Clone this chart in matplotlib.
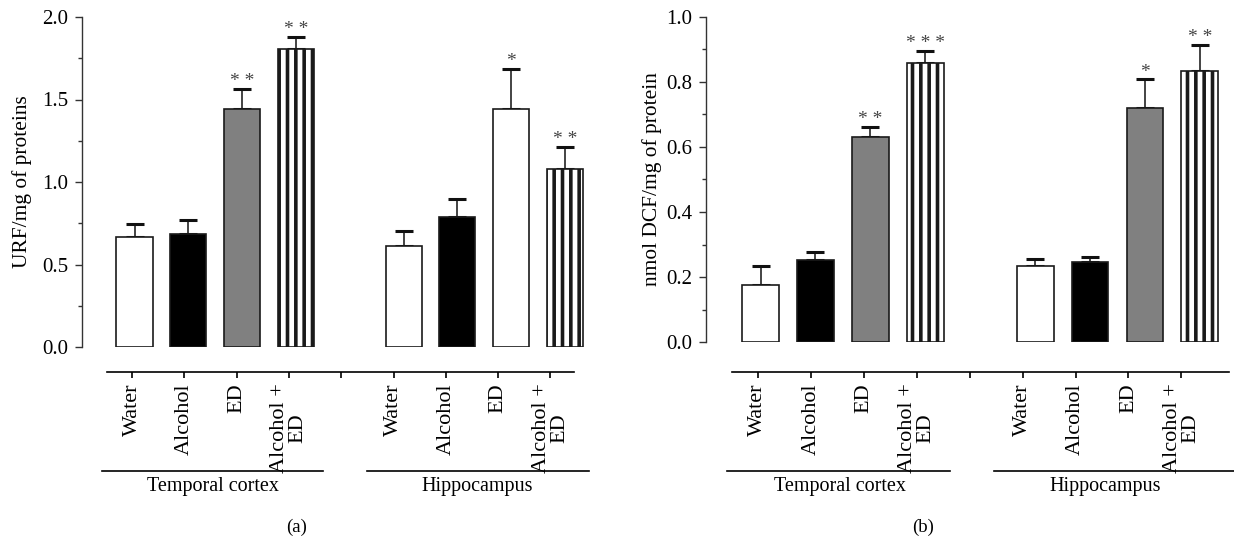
import matplotlib
matplotlib.use('Agg')
import matplotlib.pyplot as plt
from matplotlib.ticker import MultipleLocator, FormatStrFormatter
from matplotlib.transforms import blended_transform_factory

plt.rcParams['font.family'] = ['Liberation Serif', 'DejaVu Serif']
plt.rcParams['hatch.linewidth'] = 2.6

W, H = 1234, 538

# ---------------- data ----------------
groups = ['Temporal cortex', 'Hippocampus']
treatments = ['Water', 'Alcohol', 'ED', 'Alcohol +\nED']

urf_mean = [0.668, 0.683, 1.442, 1.804, 0.614, 0.788, 1.442, 1.077]
urf_err = [0.076, 0.087, 0.124, 0.075, 0.091, 0.107, 0.243, 0.137]
urf_stars = ['', '', '**', '**', '', '', '*', '**']

dcf_mean = [0.176, 0.252, 0.631, 0.857, 0.235, 0.247, 0.719, 0.834]
dcf_err = [0.059, 0.026, 0.030, 0.038, 0.022, 0.015, 0.089, 0.080]
dcf_stars = ['', '', '**', '***', '', '', '*', '**']

bar_pos = [0, 1, 2, 3, 5, 6, 7, 8]
tick_pos = [0, 1, 2, 3, 4, 5, 6, 7, 8]
tick_labels = treatments + [''] + treatments

# styles
fills_a = ['white', 'black', '#808080', 'white', 'white', 'black', 'white', 'white']
fills_b = ['white', 'black', '#808080', 'white', 'white', 'black', '#808080', 'white']
hatches = ['', '', '', '||', '', '', '', '||']

fig = plt.figure(figsize=(W / 100, H / 100), dpi=100)


def fig_ax(x0, y0, x1, y1):
    return fig.add_axes([x0 / W, 1 - y1 / H, (x1 - x0) / W, (y1 - y0) / H])


def panel(box, xlim, ylim, major, minor, means, errs, stars, fills, ylabel,
          ylab_xy, cat_box, cat_xlim, glines, gcent, letter, letter_x):
    ax = fig_ax(*box)
    ax.set_xlim(*xlim)
    ax.set_ylim(*ylim)
    for s in ['top', 'right', 'bottom']:
        ax.spines[s].set_visible(False)
    ax.spines['left'].set_color('#333333')
    ax.spines['left'].set_linewidth(1.0)
    ax.yaxis.set_major_locator(MultipleLocator(major))
    ax.yaxis.set_minor_locator(MultipleLocator(minor))
    ax.yaxis.set_major_formatter(FormatStrFormatter('%.1f'))
    ax.tick_params(axis='y', which='major', length=5, width=1, color='#333333',
                   labelsize=15, pad=5)
    ax.tick_params(axis='y', which='minor', length=3, width=1, color='#333333')
    ax.set_xticks([])
    ax.set_ylabel(ylabel, fontsize=15.4, va='center', ha='center')
    ax.yaxis.set_label_coords(*ylab_xy)
    for p, m, e, f, h in zip(bar_pos, means, errs, fills, hatches):
        ax.bar(p, m, width=0.67, color=f, edgecolor='#1a1a1a', linewidth=1.2,
               hatch=h, zorder=3)
    ax.errorbar(bar_pos, means, yerr=[[0] * len(errs), errs], fmt='none',
                ecolor='#111111', elinewidth=1.1, capsize=6.5, capthick=2.2,
                zorder=2)
    for p, m, e, s in zip(bar_pos, means, errs, stars):
        if s:
            ax.annotate(' '.join(s), (p, m + e), xytext=(0, -1),
                        textcoords='offset points', ha='center', va='bottom',
                        fontsize=14, color='#444444', annotation_clip=False)

    axc = fig_ax(*cat_box)
    axc.set_xlim(*cat_xlim)
    for s in ['top', 'right', 'left']:
        axc.spines[s].set_visible(False)
    axc.spines['bottom'].set_linewidth(1.2)
    axc.set_yticks([])
    axc.patch.set_visible(False)
    axc.set_xticks(tick_pos)
    axc.set_xticklabels(tick_labels, rotation=90, ha='center', va='top',
                        fontsize=16, linespacing=0.95)
    axc.tick_params(axis='x', length=4, width=1.2, pad=4)

    tr = blended_transform_factory(axc.transData, fig.transFigure)
    yl = 1 - 471 / H
    for (a, b), c, g in zip(glines, gcent, groups):
        axc.plot([a, b], [yl, yl], color='black', lw=1.2, transform=tr,
                 clip_on=False)
        axc.text(c, 1 - 487 / H, g, transform=tr, ha='center', va='center',
                 fontsize=14.5)
    fig.text(letter_x / W, 1 - 527 / H, letter,
             ha='center', va='center', fontsize=13.5)


panel((82, 17, 600, 347), (-0.976, 8.65), (0, 2.0), 0.5, 0.25,
      urf_mean, urf_err, urf_stars, fills_a, 'URF/mg of proteins',
      (-0.116, 0.50),
      (107, 371, 574, 372), (-0.478, 8.45),
      [(-0.57, 3.65), (4.49, 8.74)], [1.54, 6.6], '(a)', 297)

panel((706, 16.7, 1229, 342.3), (-0.993, 8.53), (0, 1.0), 0.2, 0.1,
      dcf_mean, dcf_err, dcf_stars, fills_b, 'nmol DCF/mg of protein',
      (-0.103, 0.50),
      (732, 371, 1229, 372), (-0.49, 8.9),
      [(-0.586, 3.63), (4.46, 9.1)], [1.55, 6.56], '(b)', 923)

fig.savefig('out.png', dpi=100)
